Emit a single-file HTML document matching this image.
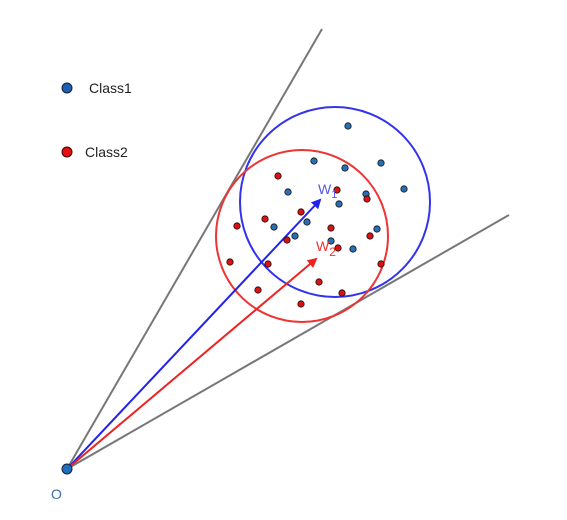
<!DOCTYPE html>
<html><head><meta charset="utf-8"><style>
html,body{margin:0;padding:0;background:#fff;}
svg{display:block;font-family:"Liberation Sans",sans-serif;}
</style></head><body>
<svg id="chart" width="567" height="520" viewBox="0 0 567 520">
<defs>
<marker id="ab" markerWidth="10" markerHeight="10" refX="8" refY="5" orient="auto" markerUnits="userSpaceOnUse"><path d="M0,0 L10,5 L0,10 z" fill="#2222ee"/></marker>
<marker id="ar" markerWidth="10" markerHeight="10" refX="8" refY="5" orient="auto" markerUnits="userSpaceOnUse"><path d="M0,0 L10,5 L0,10 z" fill="#ee2222"/></marker>
</defs>
<g id="plot"></g>
<g>
<circle cx="67" cy="88" r="5" fill="#1f5fb0" stroke="#123" stroke-width="1"/>
<text x="89" y="93" font-size="14" fill="#222">Class1</text>
<circle cx="67" cy="152" r="5" fill="#e01010" stroke="#400" stroke-width="1"/>
<text x="85" y="157" font-size="14" fill="#222">Class2</text>
</g>
</svg>
<script>
const origin = [67, 469];
const boundaryEnds = [[322, 29], [509, 215]];
const w1 = [320, 200];
const w2 = [316, 259];
const circle1 = [335, 202, 95];
const circle2 = [302, 236, 86];
const class1X = [348,314,345,381,404,366,288,339,307,274,295,377,331,353];
const class1Y = [126,161,168,163,189,194,192,204,222,227,236,229,241,249];
const class2X = [278,337,367,301,265,237,331,287,370,338,230,268,381,319,258,342,301];
const class2Y = [176,190,199,212,219,226,228,240,236,248,262,264,264,282,290,293,304];
const NS = "http://www.w3.org/2000/svg";
const g = document.getElementById('plot');
function mk(tag, attrs){const e=document.createElementNS(NS,tag);for(const k in attrs)e.setAttribute(k,attrs[k]);g.appendChild(e);return e;}
boundaryEnds.forEach((p,i)=>{
  const l=mk('line',{x1:origin[0],y1:origin[1],x2:p[0],y2:p[1],stroke:'#777',"stroke-width":2});
  
  
});
const c1=mk('circle',{cx:circle1[0],cy:circle1[1],r:circle1[2],fill:'none',stroke:'#3333ee',"stroke-width":2});


const c2=mk('circle',{cx:circle2[0],cy:circle2[1],r:circle2[2],fill:'none',stroke:'#ee3333',"stroke-width":2});


const a1=mk('line',{x1:origin[0],y1:origin[1],x2:w1[0],y2:w1[1],stroke:'#2222ee',"stroke-width":2,"marker-end":'url(#ab)'});


const a2=mk('line',{x1:origin[0],y1:origin[1],x2:w2[0],y2:w2[1],stroke:'#ee2222',"stroke-width":2,"marker-end":'url(#ar)'});


class1X.forEach((x,i)=>{
  const p=mk('circle',{cx:x,cy:class1Y[i],r:3.2,fill:'#2a6fb5',stroke:'#111',"stroke-width":0.8});
  
  
});
class2X.forEach((x,i)=>{
  const p=mk('circle',{cx:x,cy:class2Y[i],r:3.2,fill:'#dd1111',stroke:'#111',"stroke-width":0.8});
  
  
});
const t1=mk('text',{x:w1[0]-2,y:w1[1]-6,"font-size":14,fill:'#5555ee'});
t1.innerHTML='W<tspan font-size="11" dy="4">1</tspan>';


const t2=mk('text',{x:w2[0],y:w2[1]-8,"font-size":14,fill:'#ee3333'});
t2.innerHTML='W<tspan font-size="12" dy="5">2</tspan>';


const o=mk('circle',{cx:origin[0],cy:origin[1],r:5,fill:'#1f6fc0',stroke:'#123',"stroke-width":1});


const ot=mk('text',{x:origin[0]-16,y:origin[1]+30,"font-size":14,fill:'#3a6ea5'});
ot.textContent='O';


</script>
</body></html>
